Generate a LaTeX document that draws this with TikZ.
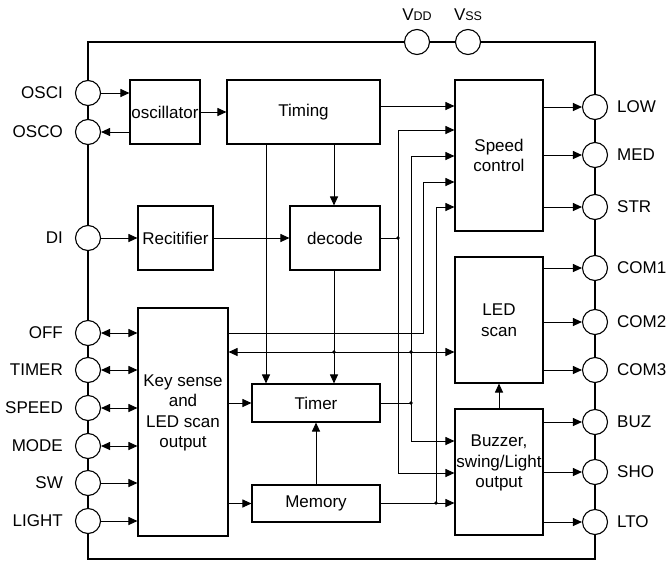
\documentclass[tikz,border=0pt]{standalone}
\usepackage{fontspec}
\setmainfont{Liberation Sans}
\usetikzlibrary{arrows.meta}
\begin{document}
\begin{tikzpicture}[x=1pt,y=-1pt,
  font=\fontsize{17}{20.5}\selectfont,
  blk/.style={draw,line width=1.1pt,inner sep=0pt,align=center},
  pin/.style={draw,circle,fill=white,line width=1.1pt,minimum size=25pt,inner sep=0pt},
  frame/.style={line width=1.6pt},
  wire/.style={line width=1pt},
  arr/.style={wire,-{Triangle[length=9pt,width=8pt]}},
  darr/.style={wire,{Triangle[length=9pt,width=8pt]}-{Triangle[length=9pt,width=8pt]}},
  jdot/.style={circle,fill,inner sep=0pt,minimum size=3.8pt},
  lbl/.style={inner sep=0pt},
  txt/.style={inner sep=0pt,align=center},
]
\useasboundingbox (0,0) rectangle (671,562);
% frame
\draw[frame] (88,42) rectangle (595,559);
% pins left
\node[pin] (osci) at (88,93) {};
\node[pin] (osco) at (88,132) {};
\node[pin] (di) at (88,238) {};
\node[pin] (off) at (88,333) {};
\node[pin] (tim) at (88,370) {};
\node[pin] (spd) at (88,408) {};
\node[pin] (mode) at (88,446) {};
\node[pin] (sw) at (88,483) {};
\node[pin] (light) at (88,521) {};
% pins top
\node[pin] (vdd) at (417,42) {};
\node[pin] (vss) at (468,42) {};
% pins right
\node[pin] (low) at (595,107) {};
\node[pin] (med) at (595,155) {};
\node[pin] (str) at (595,207) {};
\node[pin] (com1) at (595,268) {};
\node[pin] (com2) at (595,322) {};
\node[pin] (com3) at (595,370) {};
\node[pin] (buzp) at (595,422) {};
\node[pin] (sho) at (595,472) {};
\node[pin] (lto) at (595,522) {};
% labels
\node[lbl,anchor=east] (losci) at (63,93) {OSCI};
\node[lbl,anchor=east] (losco) at (63,132) {OSCO};
\node[lbl,anchor=east] (ldi) at (63,238) {DI};
\node[lbl,anchor=east] (loff) at (63,333) {OFF};
\node[lbl,anchor=east] (ltim) at (63,370) {TIMER};
\node[lbl,anchor=east] (lspd) at (63,408) {SPEED};
\node[lbl,anchor=east] (lmode) at (63,446) {MODE};
\node[lbl,anchor=east] (lsw) at (63,483) {SW};
\node[lbl,anchor=east] (llight) at (63,521) {LIGHT};
\node[lbl,anchor=base] (lvdd) at (417,20) {V{\fontsize{12.5}{12.5}\selectfont DD}};
\node[lbl,anchor=base] (lvss) at (468,20) {V{\fontsize{12.5}{12.5}\selectfont SS}};
\node[lbl,anchor=west] (llow) at (617,107) {LOW};
\node[lbl,anchor=west] (lmed) at (617,155) {MED};
\node[lbl,anchor=west] (lstr) at (617,207) {STR};
\node[lbl,anchor=west] (lcom1) at (617,268) {COM1};
\node[lbl,anchor=west] (lcom2) at (617,322) {COM2};
\node[lbl,anchor=west] (lcom3) at (617,370) {COM3};
\node[lbl,anchor=west] (lbuz) at (617,422) {BUZ};
\node[lbl,anchor=west] (lsho) at (617,472) {SHO};
\node[lbl,anchor=west] (llto) at (617,522) {LTO};
% blocks
\node[blk,minimum width=70pt,minimum height=64pt] (osc) at (165,112) {oscillator};
\node[blk,minimum width=153pt,minimum height=64pt] (timing) at (303.5,112) {Timing};
\node[blk,minimum width=75pt,minimum height=64pt] (rect) at (175.5,238) {Recitifier};
\node[blk,minimum width=90pt,minimum height=64pt] (decode) at (335,238) {decode};
\node[blk,minimum width=88pt,minimum height=151pt] (speed) at (499,155.5) {Speed\\control};
\node[blk,minimum width=88pt,minimum height=126pt] (led) at (499,320) {LED\\scan};
\node[blk,minimum width=88pt,minimum height=126pt] (buz) at (499,472) {};
\node[txt] (buzt) at (499,463) {Buzzer,\\swing/Light\\output};
\node[blk,minimum width=90pt,minimum height=228pt] (key) at (183,422) {};
\node[txt] (keyt) at (183,413) {Key sense\\and\\LED scan\\output};
\node[blk,minimum width=128pt,minimum height=38pt] (timer) at (316,403) {Timer};
\node[blk,minimum width=128pt,minimum height=37pt] (mem) at (316,503.5) {Memory};
% junctions
\node[jdot] (j1) at (398,238) {};
\node[jdot] (j2) at (334,352) {};
\node[jdot] (j3) at (411,352) {};
\node[jdot] (j4) at (411,403) {};
\node[jdot] (j5) at (436,503) {};
% oscillator connections
\draw[arr] (osci.east) -- (osc.west |- osci);
\draw[arr] (osc.west |- osco) -- (osco.east);
\draw[arr] (osc.east) -- (timing.west |- osc.east);
\draw[arr] (timing.east |- 0,106) -- (speed.west |- 0,106);
\draw[arr] (timing.south -| 334,0) -- (decode.north -| 334,0);
\draw[arr] (timing.south -| 266,0) -- (timer.north -| 266,0);
% DI path
\draw[arr] (di.east) -- (rect.west |- di);
\draw[arr] (rect.east) -- (decode.west |- rect.east);
\draw[wire] (decode.east |- j1) -- (j1.center);
\draw[arr] (j1.center) |- (speed.west |- 0,130);
\draw[arr] (j1.center) |- (buz.west |- 0,473);
% decode down
\draw[arr] (decode.south -| j2) -- (timer.north -| j2);
\draw[arr] (j3.center) -- (key.east |- j3);
\draw[arr] (j3.center) -- (led.west |- j3);
% timer output net
\draw[wire] (timer.east |- j4) -- (j4.center);
\draw[arr] (j4.center) |- (speed.west |- 0,156);
\draw[arr] (j4.center) |- (buz.west |- 0,441);
% key sense to speed
\draw[arr] (key.east |- 0,333) -- (423,333) |- (speed.west |- 0,182);
% memory net
\draw[wire] (mem.east |- j5) -- (j5.center);
\draw[arr] (j5.center) -- (buz.west |- j5);
\draw[arr] (j5.center) |- (speed.west |- 0,207);
% key sense to timer / memory
\draw[arr] (key.east |- timer) -- (timer.west);
\draw[arr] (key.east |- mem) -- (mem.west);
\draw[arr] (mem.north) -- (timer.south);
\draw[arr] (buz.north) -- (led.south);
% left pins
\draw[darr] (off.east) -- (key.west |- off);
\draw[darr] (tim.east) -- (key.west |- tim);
\draw[darr] (spd.east) -- (key.west |- spd);
\draw[darr] (mode.east) -- (key.west |- mode);
\draw[arr] (sw.east) -- (key.west |- sw);
\draw[arr] (light.east) -- (key.west |- light);
% outputs
\draw[arr] (speed.east |- low) -- (low.west);
\draw[arr] (speed.east |- med) -- (med.west);
\draw[arr] (speed.east |- str) -- (str.west);
\draw[arr] (led.east |- com1) -- (com1.west);
\draw[arr] (led.east |- com2) -- (com2.west);
\draw[arr] (led.east |- com3) -- (com3.west);
\draw[arr] (buz.east |- buzp) -- (buzp.west);
\draw[arr] (buz.east |- sho) -- (sho.west);
\draw[arr] (buz.east |- lto) -- (lto.west);
\end{tikzpicture}
\end{document}
